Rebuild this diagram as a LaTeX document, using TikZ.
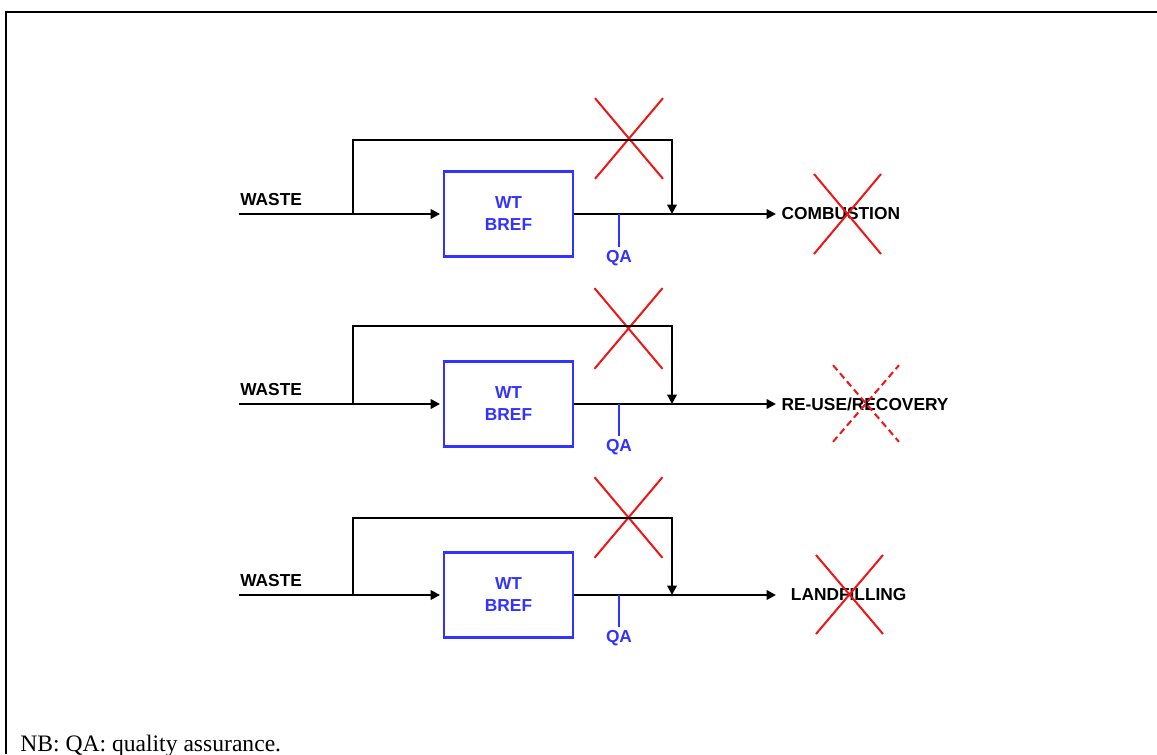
\documentclass[tikz,border=0pt]{standalone}
\usepackage{fontspec}
\setmainfont{Liberation Serif}
\setsansfont{Liberation Sans}
\usetikzlibrary{arrows.meta,shapes.misc,positioning}
\definecolor{wtColor}{RGB}{51,51,255}
\definecolor{crossColor}{RGB}{240,20,20}
\tikzset{flowlabel/.style={font=\sffamily\bfseries\fontsize{13}{16.5}\selectfont, inner sep=0pt}}
\tikzset{wtbox/.style={flowlabel, draw=wtColor, text=wtColor, line width=1.9pt, align=center, minimum width=96.75pt, minimum height=63.75pt}}
\tikzset{qalabel/.style={flowlabel, text=wtColor, inner sep=2pt}}
\tikzset{crossout/.style={cross out, draw=crossColor, line width=1.5pt, inner sep=0pt, minimum width=49.5pt, minimum height=59pt}}
\tikzstyle{arrow} = [-{Triangle[length=7pt,width=7pt]}]

\begin{document}
\begin{tikzpicture}[x=0.75pt, y=-0.75pt, flow/.style={line width=1.9pt}]
	\useasboundingbox (0,0) rectangle (1157,754);
	% Frame
	\draw[line width=1.5pt] (6,754) -- (6,12) -- (1157,12);
	\node (note) [anchor=base west, inner sep=0pt, font=\rmfamily\fontsize{17.7}{20}\selectfont] at (20,751) {NB: QA: quality assurance.};

	% Nodes
	\node (waste1) [flowlabel, anchor=base west] at (240,205) {WASTE};
	\coordinate (in1) at (239,214);
	\coordinate (split1) at (353,214);
	\coordinate (top1) at (353,140);
	\node (wt1) [wtbox] at (508.5,214) {WT\\BREF};
	\coordinate (join1) at (672,214);
	\coordinate (end1) at (776,214);
	\node (out1) [flowlabel, right=4pt of end1] {COMBUSTION};
	\coordinate (tap1) at (619,214);
	\node (qa1) [qalabel] at (619,258) {QA};
	\node (cut1) [crossout] at (629,138.5) {};
	\node (stop1) [crossout, minimum width=48.75pt, minimum height=58.5pt] at (847.5,214) {};

	\node (waste2) [flowlabel, anchor=base west] at (240,395) {WASTE};
	\coordinate (in2) at (239,404);
	\coordinate (split2) at (353,404);
	\coordinate (top2) at (353,326);
	\node (wt2) [wtbox] at (508.5,404) {WT\\BREF};
	\coordinate (join2) at (672,404);
	\coordinate (end2) at (776,404);
	\node (out2) [flowlabel, right=4pt of end2] {RE-USE/RECOVERY};
	\coordinate (tap2) at (619,404);
	\node (qa2) [qalabel] at (619,447) {QA};
	\node (cut2) [crossout] at (628.5,328.5) {};
	\node (stop2) [crossout, dash pattern=on 5pt off 3pt, minimum width=48pt, minimum height=56pt] at (866,403.5) {};

	\node (waste3) [flowlabel, anchor=base west] at (240,586) {WASTE};
	\coordinate (in3) at (239,595);
	\coordinate (split3) at (353,595);
	\coordinate (top3) at (353,518);
	\node (wt3) [wtbox] at (508.5,595) {WT\\BREF};
	\coordinate (join3) at (672,595);
	\coordinate (end3) at (776,595);
	\node (out3) [flowlabel, right=11pt of end3] {LANDFILLING};
	\coordinate (tap3) at (619,595);
	\node (qa3) [qalabel] at (619,638) {QA};
	\node (cut3) [crossout] at (628.5,517.5) {};
	\node (stop3) [crossout, minimum width=48.75pt, minimum height=57.75pt] at (849.5,594.5) {};

	% Connectors
	\begin{scope}[flow]
	\draw (in1) -- (split1);
	\draw [arrow, shorten >=2pt] (split1) -- (wt1.west);
	\draw [arrow] (split1) -- (top1) -| (join1);
	\draw [line width=2.1pt] (wt1.east) -- (join1);
	\draw [line width=2.1pt, arrow] (join1) -- (end1);

	\draw (in2) -- (split2);
	\draw [arrow, shorten >=2pt] (split2) -- (wt2.west);
	\draw [arrow] (split2) -- (top2) -| (join2);
	\draw [line width=2.1pt] (wt2.east) -- (join2);
	\draw [line width=2.1pt, arrow] (join2) -- (end2);

	\draw (in3) -- (split3);
	\draw [arrow, shorten >=2pt] (split3) -- (wt3.west);
	\draw [arrow] (split3) -- (top3) -| (join3);
	\draw [line width=2.1pt] (wt3.east) -- (join3);
	\draw [line width=2.1pt, arrow] (join3) -- (end3);
	\end{scope}

	\draw [wtColor, line width=1pt] (tap1) -- (qa1.north);
	\draw [wtColor, line width=1pt] (tap2) -- (qa2.north);
	\draw [wtColor, line width=1pt] (tap3) -- (qa3.north);
\end{tikzpicture}
\end{document}
